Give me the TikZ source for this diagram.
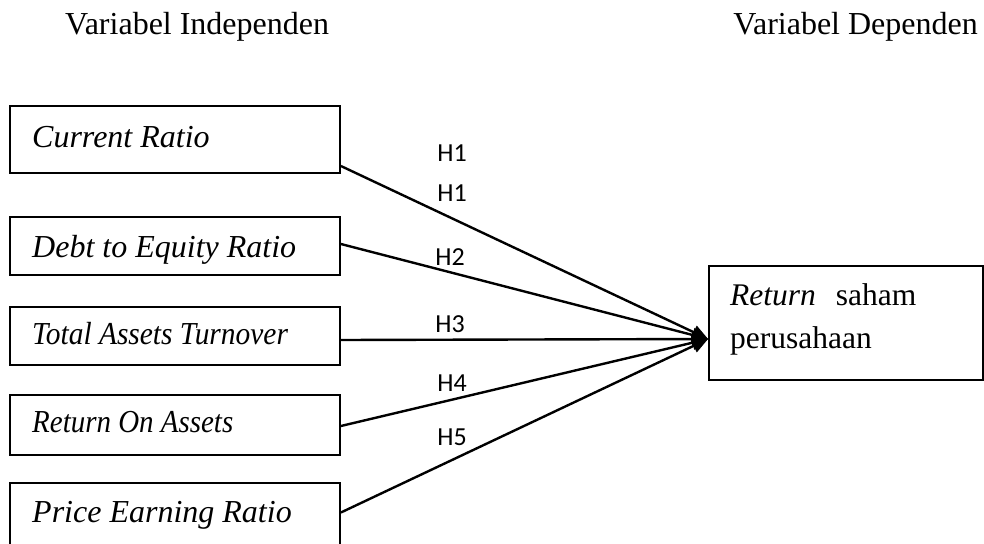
\documentclass[tikz,border=0pt]{standalone}
\usepackage{fontspec}
\setmainfont{Liberation Serif}
\newfontfamily\hfont{Carlito}
\usetikzlibrary{arrows.meta}
\tikzset{
  box/.style={draw=black, line width=1.8pt, inner sep=0pt, minimum width=330pt},
  ttl/.style={inner sep=0pt, font=\fontsize{32}{36}\selectfont},
  lbl/.style={inner sep=0pt, font=\fontsize{32}{36}\selectfont\itshape},
  ylbl/.style={inner sep=0pt, font=\fontsize{31.5}{36}\selectfont},
  hyp/.style={inner sep=0pt, font=\hfont\fontsize{26}{30}\selectfont},
  conn/.style={draw=black, line width=2.4pt, -{Triangle[length=16pt,width=14pt]}}
}
\begin{document}
\begin{tikzpicture}[x=1pt,y=-1pt]
\useasboundingbox (0,0) rectangle (984,543);
\clip (0,0) rectangle (984,543);
% headers
\node[ttl, anchor=base west] (hind) at (65,35) {Variabel Independen};
\node[ttl, anchor=base east] (hdep) at (978,35) {Variabel Dependen};
% independent boxes
\node[box, minimum height=67pt] (b1) at (175,139.5) {};
\node[box, minimum height=58pt] (b2) at (175,246) {};
\node[box, minimum height=58pt] (b3) at (175,336) {};
\node[box, minimum height=60pt] (b4) at (175,425) {};
\node[box, minimum height=70pt] (b5) at (175,518) {};
\node[lbl, anchor=base west] (t1) at (32,147) {Current Ratio};
\node[lbl, anchor=base west] (t2) at (32,257) {Debt to Equity Ratio};
\node[lbl, anchor=base west] (t3) at (32,344) {\scalebox{0.92}[1]{Total Assets Turnover}};
\node[lbl, anchor=base west] (t4) at (32,432) {\scalebox{0.905}[1]{Return On Assets}};
\node[lbl, anchor=base west] (t5) at (32,522) {Price Earning Ratio};
% dependent box
\node[box, minimum width=274pt, minimum height=114pt] (y) at (846,323) {};
\node[ylbl, anchor=base west] (y1) at (730,305) {\textit{Return}\hspace{20pt}saham};
\node[ylbl, anchor=base west] (y2) at (730,348) {perusahaan};
\coordinate (tip) at ([yshift=-16pt]y.west);
% connectors
\draw[conn] ([yshift=-26.5pt]b1.east) -- (tip);
\draw[conn] ([yshift=2pt]b2.east) -- (tip);
\draw[conn] ([yshift=-4pt]b3.east) -- (tip);
\draw[conn] ([yshift=-1pt]b4.east) -- (tip);
\draw[conn] ([yshift=5.5pt]b5.east) -- (tip);
% hypothesis labels
\node[hyp] (h1a) at (452,153) {H1};
\node[hyp] (h1b) at (452,193) {H1};
\node[hyp] (h2) at (450,257) {H2};
\node[hyp] (h3) at (450,324) {H3};
\node[hyp] (h4) at (452,383) {H4};
\node[hyp] (h5) at (452,437) {H5};
\end{tikzpicture}
\end{document}
